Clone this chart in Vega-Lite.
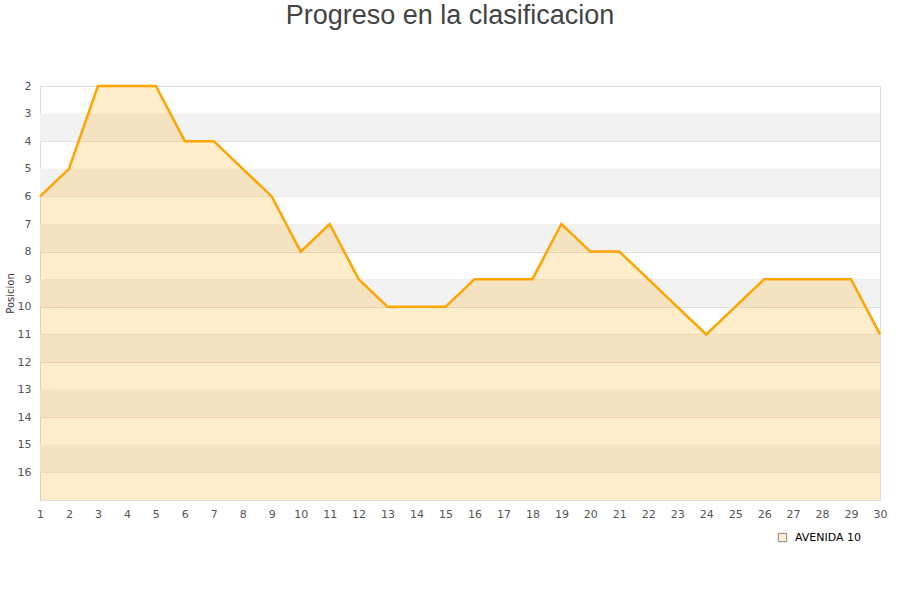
{
  "$schema": "https://vega.github.io/schema/vega-lite/v6.json",
  "autosize": {"type": "none"},
  "width": 840,
  "height": 414,
  "padding": {"left": 40, "top": 86, "right": 20, "bottom": 100},
  "title": {"text": "Progreso en la clasificacion", "fontSize": 27, "font": "Liberation Sans", "fontWeight": "normal", "color": "#444444", "offset": 50, "anchor": "middle", "dx": -10},
  "config": {
    "view": {"stroke": "#dddddd"},
    "axis": {"labelFont": "DejaVu Sans", "labelColor": "#555555", "labelFontSize": 11, "titleFont": "DejaVu Sans", "titleFontSize": 10, "titleFontWeight": "normal", "titleColor": "#333333", "labelOverlap": false}
  },
  "datasets": {
    "pos": [
      {"jornada": 1, "posicion": 6, "equipo": "AVENIDA 10"},
      {"jornada": 2, "posicion": 5, "equipo": "AVENIDA 10"},
      {"jornada": 3, "posicion": 2, "equipo": "AVENIDA 10"},
      {"jornada": 4, "posicion": 2, "equipo": "AVENIDA 10"},
      {"jornada": 5, "posicion": 2, "equipo": "AVENIDA 10"},
      {"jornada": 6, "posicion": 4, "equipo": "AVENIDA 10"},
      {"jornada": 7, "posicion": 4, "equipo": "AVENIDA 10"},
      {"jornada": 8, "posicion": 5, "equipo": "AVENIDA 10"},
      {"jornada": 9, "posicion": 6, "equipo": "AVENIDA 10"},
      {"jornada": 10, "posicion": 8, "equipo": "AVENIDA 10"},
      {"jornada": 11, "posicion": 7, "equipo": "AVENIDA 10"},
      {"jornada": 12, "posicion": 9, "equipo": "AVENIDA 10"},
      {"jornada": 13, "posicion": 10, "equipo": "AVENIDA 10"},
      {"jornada": 14, "posicion": 10, "equipo": "AVENIDA 10"},
      {"jornada": 15, "posicion": 10, "equipo": "AVENIDA 10"},
      {"jornada": 16, "posicion": 9, "equipo": "AVENIDA 10"},
      {"jornada": 17, "posicion": 9, "equipo": "AVENIDA 10"},
      {"jornada": 18, "posicion": 9, "equipo": "AVENIDA 10"},
      {"jornada": 19, "posicion": 7, "equipo": "AVENIDA 10"},
      {"jornada": 20, "posicion": 8, "equipo": "AVENIDA 10"},
      {"jornada": 21, "posicion": 8, "equipo": "AVENIDA 10"},
      {"jornada": 22, "posicion": 9, "equipo": "AVENIDA 10"},
      {"jornada": 23, "posicion": 10, "equipo": "AVENIDA 10"},
      {"jornada": 24, "posicion": 11, "equipo": "AVENIDA 10"},
      {"jornada": 25, "posicion": 10, "equipo": "AVENIDA 10"},
      {"jornada": 26, "posicion": 9, "equipo": "AVENIDA 10"},
      {"jornada": 27, "posicion": 9, "equipo": "AVENIDA 10"},
      {"jornada": 28, "posicion": 9, "equipo": "AVENIDA 10"},
      {"jornada": 29, "posicion": 9, "equipo": "AVENIDA 10"},
      {"jornada": 30, "posicion": 11, "equipo": "AVENIDA 10"}
    ],
    "bands": [
      {"desde": 3, "hasta": 4},
      {"desde": 5, "hasta": 6},
      {"desde": 7, "hasta": 8},
      {"desde": 9, "hasta": 10},
      {"desde": 11, "hasta": 12},
      {"desde": 13, "hasta": 14},
      {"desde": 15, "hasta": 16}
    ]
  },
  "encoding": {
    "x": {"type": "quantitative", "title": null,
      "scale": {"domain": [1, 30], "nice": false, "zero": false},
      "axis": {"values": [1,2,3,4,5,6,7,8,9,10,11,12,13,14,15,16,17,18,19,20,21,22,23,24,25,26,27,28,29,30], "labelOverlap": false, "labelFlush": false, "grid": false, "ticks": false, "domain": false, "labelPadding": 8, "format": "d"}},
    "y": {"type": "quantitative", "title": "Posicion",
      "scale": {"domain": [2, 17], "reverse": true, "nice": false, "zero": false},
      "axis": {"values": [2,3,4,5,6,7,8,9,10,11,12,13,14,15,16,17], "labelOverlap": false, "labelExpr": "datum.value == 17 ? '' : datum.label", "grid": true, "gridColor": "#dddddd", "ticks": false, "domain": false, "labelPadding": 9, "titlePadding": 2}}
  },
  "layer": [
    {
      "data": {"name": "bands"},
      "mark": {"type": "rect", "fill": "#f2f2f2"},
      "encoding": {
        "x": {"datum": 1, "type": "quantitative"},
        "x2": {"datum": 30},
        "y": {"field": "desde", "type": "quantitative"},
        "y2": {"field": "hasta"}
      }
    },
    {
      "data": {"name": "pos"},
      "mark": {"type": "area", "fill": "#FFA500", "fillOpacity": 0.2},
      "encoding": {
        "x": {"field": "jornada", "type": "quantitative"},
        "y": {"field": "posicion", "type": "quantitative"},
        "y2": {"datum": 17}
      }
    },
    {
      "data": {"name": "pos"},
      "mark": {"type": "line", "color": "#FFA500", "strokeWidth": 2.5},
      "encoding": {
        "x": {"field": "jornada", "type": "quantitative"},
        "y": {"field": "posicion", "type": "quantitative"}
      }
    },
    {
      "data": {"name": "pos"},
      "mark": {"type": "point", "shape": "square", "filled": true, "opacity": 0, "stroke": "#888888", "strokeWidth": 1},
      "encoding": {
        "x": {"field": "jornada", "type": "quantitative"},
        "y": {"field": "posicion", "type": "quantitative"},
        "fill": {
          "field": "equipo", "type": "nominal",
          "scale": {"range": ["#FFEDCC"]},
          "legend": {"title": null, "orient": "none", "legendX": 737, "legendY": 446, "symbolType": "square", "symbolSize": 70, "symbolOpacity": 1, "symbolStrokeColor": "#888888", "symbolStrokeWidth": 1, "labelFont": "DejaVu Sans", "labelFontSize": 11, "labelColor": "#000000", "labelOffset": 7}
        }
      }
    }
  ]
}
